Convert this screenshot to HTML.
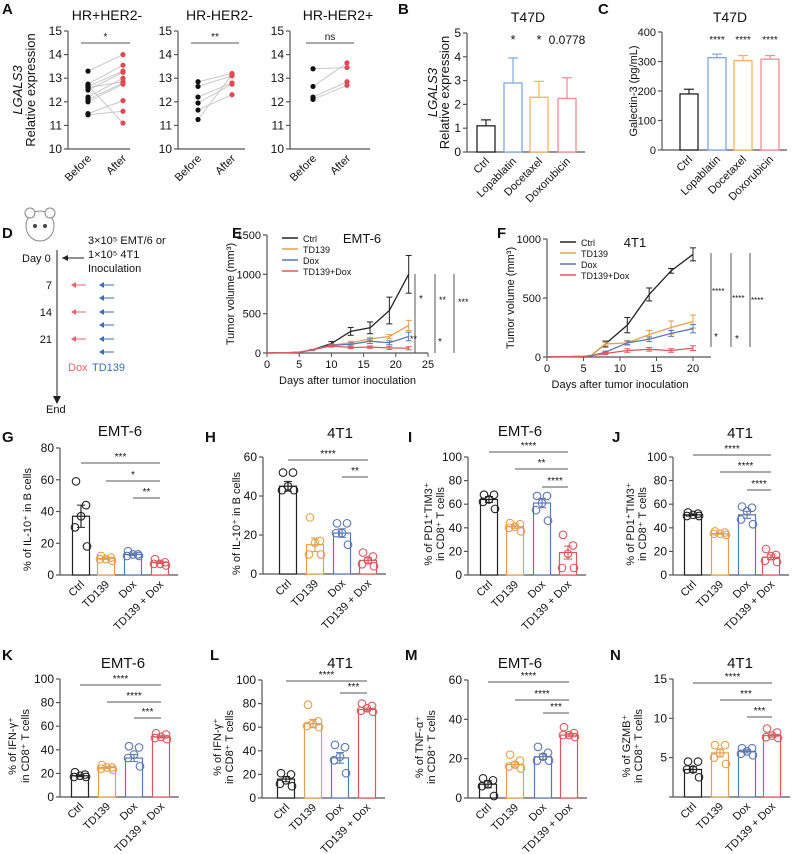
<!DOCTYPE html>
<html><head><meta charset="utf-8"><style>
html,body{margin:0;padding:0;background:#fff}
svg{display:block;font-family:"Liberation Sans",Arial,sans-serif}
</style></head><body>
<svg id="fig" width="796" height="854" viewBox="0 0 796 854"></svg>
<script>
// ---------- DATA ----------
const groups4 = ["Ctrl","TD139","Dox","TD139 + Dox"];
const drugsB = ["Ctrl","Lopablatin","Docetaxel","Doxorubicin"];
const A1_before=[13.3,12.75,12.65,12.5,12.2,12.1,12.0,11.5,11.45,12.7,12.6];
const A1_after=[14.0,13.55,13.3,13.25,13.0,12.8,12.75,12.05,11.6,11.1,12.85];
const A2_before=[12.85,12.65,12.2,11.95,11.65,11.25];
const A2_after=[13.2,13.1,12.8,12.75,12.3,13.15];
const A3_before=[13.4,12.65,12.2,12.1];
const A3_after=[13.45,13.65,12.85,12.7];
const B_means=[1.1,2.9,2.3,2.25];
const B_err=[0.25,1.05,0.67,0.87];
const C_means=[190,313,303,308];
const C_err=[16,12,17,12];
const E_days=[0,3,5,7,10,13,16,19,22];
const E_ctrl=[0,3,10,40,120,275,320,540,1000];
const E_ctrlErr=[0,0,0,5,25,50,75,170,240];
const E_td=[0,3,10,40,100,130,180,210,350];
const E_tdErr=[0,0,0,5,15,20,20,25,65];
const E_dox=[0,3,10,40,100,110,150,130,210];
const E_doxErr=[0,0,0,5,15,20,30,25,55];
const E_combo=[0,3,10,40,90,70,75,65,60];
const E_comboErr=[0,0,0,5,15,15,15,20,20];
const F_days=[0,5,6,8,11,14,17,20];
const F_ctrl=[0,5,10,110,270,530,730,870];
const F_ctrlErr=[0,0,0,25,65,55,20,55];
const F_td=[0,5,10,110,120,190,250,300];
const F_tdErr=[0,0,0,15,20,35,55,55];
const F_dox=[0,5,10,40,120,150,200,240];
const F_doxErr=[0,0,0,10,15,20,25,35];
const F_combo=[0,5,10,30,55,65,55,75];
const F_comboErr=[0,0,0,10,15,15,15,20];
const G_means=[37,10.5,13,8], G_sem=[7,0.7,0.8,0.8];
const G_pts=[[59,44,37,30,18],[12,11,10,10,9],[15,13,13,12,12],[10,8,7,7,6]];
const H_means=[45,15,21,7], H_sem=[2.5,3.5,2.2,1.3];
const H_pts=[[52,52,45,43,43],[29,17,16,10,10],[26,26,21,21,15],[11,9,7,5,4]];
const I_means=[64,41,61,19], I_sem=[2.5,1.5,4,5.5];
const I_pts=[[68,68,64,62,56],[44,43,41,40,37],[67,67,61,55,46],[34,25,18,6,6]];
const J_means=[51,35,51,15], J_sem=[0.7,0.6,3,2];
const J_pts=[[53,52,51,50,50],[37,36,35,35,34],[58,57,54,47,43],[22,17,16,12,11]];
const K_means=[18,25,33,51], K_sem=[0.8,0.8,3,1];
const K_pts=[[21,19,18,17,17],[27,25,25,24,23],[43,42,36,33,26],[54,53,51,50,49]];
const L_means=[16,63,34,75], L_sem=[2.2,3.5,4.5,1.3];
const L_pts=[[21,20,15,12,10],[79,65,63,61,60],[45,43,35,32,21],[80,78,76,74,73]];
const M_means=[7,17,21,32], M_sem=[1.8,1.2,1.4,0.9];
const M_pts=[[10,9,7,6,1],[22,19,17,16,15],[26,23,21,19,19],[36,33,32,32,31]];
const N_means=[3.5,5.6,5.8,7.8], N_sem=[0.35,0.5,0.2,0.2];
const N_pts=[[4.5,4.5,3.5,3.5,2.5],[6.6,6.6,5.6,5.0,4.2],[6.2,6.2,5.8,5.5,5.3],[8.7,8.2,7.8,7.6,7.5]];

// ---------- HELPERS ----------
const NS="http://www.w3.org/2000/svg";
const root=document.getElementById('fig');
function el(tag,attrs,parent){const e=document.createElementNS(NS,tag);for(const k in attrs)e.setAttribute(k,attrs[k]);(parent||root).appendChild(e);return e;}
function txt(s,x,y,size,parent,extra){const t=el('text',Object.assign({x:x,y:y,'font-size':size,fill:'#111'},extra||{}),parent);t.textContent=s;return t;}
const COL=['#222','#e3a050','#5b78b0','#d95a5e'];
const COLB=['#222','#7fa8dc','#f0b35e','#f08c93'];
const GRAY='#555';

function panelLetter(s,x,y){const t=txt(s,x,y,15,root,{'font-weight':'bold'});

}

function yAxis(g,ax,y0,y1,vmin,vmax,ticks,size,labels){
  const sy=v=>y0-(v-vmin)/(vmax-vmin)*(y0-y1);
  const l=el('line',{x1:ax,x2:ax,y1:y0,y2:sy(Math.max(...ticks)),stroke:GRAY,'stroke-width':1.2},g);
  
  
  ticks.forEach((v,i)=>{el('line',{x1:ax-4,x2:ax,y1:sy(v),y2:sy(v),stroke:GRAY,'stroke-width':1.2},g);
    if(!labels||labels[i]!==null){const t=txt(labels?labels[i]:String(v),ax-6,sy(v)+4,size,g,{'text-anchor':'end'});
    
    }});
  return sy;
}
function sigBar(g,x1,x2,y,label){
  el('line',{x1:x1,x2:x2,y1:y,y2:y,stroke:GRAY,'stroke-width':1},g);
  const t=txt(label,(x1+x2)/2,y-3,10,g,{'text-anchor':'middle'});
  
  
}

// ---------- PANEL A ----------
function pairPanel(name,ax,xend,xb,xa,title,before,after,sigLabel){
  const g=el('g',{});
  
  
  const y0=149,y1=31;
  const sy=yAxis(g,ax,y0,y1,10,15,[10,11,12,13,14,15],12);
  el('line',{x1:ax,x2:xend,y1:y0,y2:y0,stroke:GRAY,'stroke-width':1.2},g);
  const tt=txt(title,(ax+xend)/2+8,20,14,g,{'text-anchor':'middle'});
  
  
  sigBar(g,xb-7,xa+7,43,sigLabel);
  before.forEach((v,i)=>{el('line',{x1:xb,x2:xa,y1:sy(v),y2:sy(after[i]),stroke:'#c8c8c8','stroke-width':1},g);});
  before.forEach(v=>{const c=el('circle',{cx:xb,cy:sy(v),r:2.6,fill:'#111'},g);
    
    });
  after.forEach(v=>{const c=el('circle',{cx:xa,cy:sy(v),r:2.6,fill:'#e04a52'},g);
    
    });
  [['Before',xb],['After',xa]].forEach(([s,x])=>{const t=txt(s,x+4,y0+10,11,g,{'text-anchor':'end',transform:`rotate(-45 ${x+4} ${y0+10})`});
    
    });
}
pairPanel('panel-a-hr-her2neg',68,130,88,123,'HR+HER2-',A1_before,A1_after,'*');
pairPanel('panel-a-hrneg-her2neg',178,245,198,232,'HR-HER2-',A2_before,A2_after,'**');
pairPanel('panel-a-hrneg-her2pos',290,370,313,347,'HR-HER2+',A3_before,A3_after,'ns');
{const t=txt('LGALS3',22,90,13,root,{'text-anchor':'middle','font-style':'italic',transform:'rotate(-90 22 90)'});


const t2=txt('Relative expression',35,90,13,root,{'text-anchor':'middle',transform:'rotate(-90 35 90)'});

}

// ---------- PANELS B, C ----------
function barPanel(name,ax,xend,xs,y0,y1,vmax,ticks,means,err,stars,title,tx,ylab,tsize){
  const g=el('g',{});
  
  
  const sy=yAxis(g,ax,y0,y1,0,vmax,ticks,tsize);
  el('line',{x1:ax,x2:xend,y1:y0,y2:y0,stroke:GRAY,'stroke-width':1.2},g);
  const tt=txt(title,tx,22,14,g,{'text-anchor':'middle'});
  
  
  means.forEach((m,i)=>{const x=xs[i],w=18;
    el('line',{x1:x,x2:x,y1:sy(m),y2:sy(m+err[i]),stroke:COLB[i],'stroke-width':1.2},g);
    el('line',{x1:x-5,x2:x+5,y1:sy(m+err[i]),y2:sy(m+err[i]),stroke:COLB[i],'stroke-width':1.2},g);
    const r=el('rect',{x:x-w/2,y:sy(m),width:w,height:y0-sy(m),fill:'#fff',stroke:COLB[i],'stroke-width':1.3},g);
    
    
    const t=txt(drugsB[i],x+4,y0+10,11,g,{'text-anchor':'end',transform:`rotate(-45 ${x+4} ${y0+10})`});
    
    
    if(stars[i]){const s=txt(stars[i],x,y1+11,stars[i].length>2?10:13,g,{'text-anchor':'middle'});
      
      }
  });
  ylab.forEach(([s,x,it])=>{const t=txt(s,x,(y0+y1)/2,it==='s'?11:13,g,{'text-anchor':'middle','font-style':it==='i'?'italic':'normal',transform:`rotate(-90 ${x} ${(y0+y1)/2})`});
    
    });
}
barPanel('panel-b',467,585,[486,513,539,567],152,33,5,[0,1,2,3,4,5],B_means,B_err,['','*','*',''],'T47D',528,[['LGALS3',437,'i'],['Relative expression',449,'n']],12);
{const t=txt('0.0778',567,44,12,root,{'text-anchor':'middle'});}
barPanel('panel-c',662,787,[689,717,743,770],150,32,400,[0,100,200,300,400],C_means,C_err,['','****','****','****'],'T47D',730,[['Galectin-3 (pg/mL)',637,'s']],11);

// ---------- PANEL D ----------
{const g=el('g',{});


el('ellipse',{cx:40,cy:226,rx:14,ry:15,fill:'#fff',stroke:'#888','stroke-width':1},g);
el('circle',{cx:30,cy:213,r:5,fill:'#fff',stroke:'#888'},g);
el('circle',{cx:50,cy:213,r:5,fill:'#fff',stroke:'#888'},g);
el('circle',{cx:35,cy:226,r:2,fill:'#444'},g);el('circle',{cx:45,cy:226,r:2,fill:'#444'},g);
el('line',{x1:57,x2:57,y1:250,y2:400,stroke:'#222','stroke-width':1},g);
el('path',{d:'M53,396 L57,404 L61,396 Z',fill:'#222'},g);
el('line',{x1:62,x2:84,y1:258,y2:258,stroke:'#222'},g);el('path',{d:'M62,258 L68,255 L68,261Z',fill:'#222'},g);
txt('Day 0',22,262,11,g);txt('3×10⁵ EMT/6 or',88,244,11,g);txt('1×10⁵ 4T1',88,258,11,g);txt('Inoculation',88,272,11,g);
[['7',285],['14',312],['21',339]].forEach(([s,y])=>{txt(s,52,y+4,11,g,{'text-anchor':'end'});
  el('line',{x1:72,x2:86,y1:y,y2:y,stroke:'#e0666b'},g);el('path',{d:`M71,${y} L76,${y-3} L76,${y+3}Z`,fill:'#e0666b'},g);});
[285,298,312,325,339,352].forEach(y=>{el('line',{x1:100,x2:114,y1:y,y2:y,stroke:'#3b6fb5'},g);el('path',{d:`M99,${y} L104,${y-3} L104,${y+3}Z`,fill:'#3b6fb5'},g);});
txt('Dox',68,371,11,g,{fill:'#e0666b'});txt('TD139',92,371,11,g,{fill:'#3b6fb5'});
txt('End',46,413,11,g);}

// ---------- PANELS E, F ----------
const lineNames=['Ctrl','TD139','Dox','TD139+Dox'];
function growthPanel(name,ax,xmax,xPx,y0,y1,vmax,yt,xt,days,series,errs,title,tx,legX){
  const g=el('g',{});
  
  
  const sy=yAxis(g,ax,y0,y1,0,vmax,yt,11);
  const sx=d=>ax+d/xmax*(xPx-ax);
  el('line',{x1:ax,x2:sx(xt[xt.length-1])+(name==='panel-f'?18:0),y1:y0,y2:y0,stroke:GRAY,'stroke-width':1.2},g);
  xt.forEach(d=>{el('line',{x1:sx(d),x2:sx(d),y1:y0,y2:y0+4,stroke:GRAY},g);
    const t=txt(String(d),sx(d),y0+15,11,g,{'text-anchor':'middle'});
    
    });
  const xl=txt('Days after tumor inoculation',(ax+sx(xt[xt.length-1]))/2,y0+31,11,g,{'text-anchor':'middle'});
  
  
  const yl=txt('Tumor volume (mm³)',ax-33,(y0+y1)/2,11,g,{'text-anchor':'middle',transform:`rotate(-90 ${ax-33} ${(y0+y1)/2})`});
  
  
  const tt=txt(title,tx,y1+8,13,g,{'text-anchor':'middle'});
  
  
  series.forEach((s,k)=>{const c=COL[k];
    const p=el('polyline',{points:days.map((d,i)=>sx(d)+','+sy(s[i])).join(' '),fill:'none',stroke:c,'stroke-width':1.3},g);
    
    
    days.forEach((d,i)=>{const e=errs[k][i];if(e>0){const x=sx(d);
      el('line',{x1:x,x2:x,y1:sy(s[i]-e),y2:sy(s[i]+e),stroke:c},g);
      el('line',{x1:x-3,x2:x+3,y1:sy(s[i]+e),y2:sy(s[i]+e),stroke:c},g);
      el('line',{x1:x-3,x2:x+3,y1:sy(s[i]-e),y2:sy(s[i]-e),stroke:c},g);}});
    el('line',{x1:legX,x2:legX+16,y1:y1+3+k*11,y2:y1+3+k*11,stroke:c,'stroke-width':1.5},g);
    const lt=txt(lineNames[k],legX+21,y1+7+k*11,9,g);
    
    
  });
  return g;
}
const gE=growthPanel('panel-e',267,25,428,353,235,1500,[0,500,1000,1500],[0,5,10,15,20,25],E_days,[E_ctrl,E_td,E_dox,E_combo],[E_ctrlErr,E_tdErr,E_doxErr,E_comboErr],'EMT-6',362,282);
[[415,274,353],[435,274,353],[454,274,353]].forEach(([x,a,b])=>el('line',{x1:x,x2:x,y1:a,y2:b,stroke:GRAY},gE));
txt('*',419,302,10,gE);txt('**',439,303,9,gE);txt('***',458,305,9,gE);txt('**',410,342,9,gE);txt('*',438,345,10,gE);
const gF=growthPanel('panel-f',547,20,693,357,239,1000,[0,500,1000],[0,5,10,15,20],F_days,[F_ctrl,F_td,F_dox,F_combo],[F_ctrlErr,F_tdErr,F_doxErr,F_comboErr],'4T1',635,560);
[711,731,750].forEach(x=>el('line',{x1:x,x2:x,y1:253,y2:347,stroke:GRAY},gF));
txt('****',712,294,8,gF);txt('****',732,301,8,gF);txt('****',751,303,8,gF);txt('*',714,340,10,gF);txt('*',735,342,10,gF);

// ---------- DOT/BAR PANELS G-N ----------
function dotPanel(name,ax,xs,y0,y1,vmax,ticks,tickLabels,means,sem,pts,sigs,title,tx,ty,ylab){
  const g=el('g',{});
  
  
  const sy=yAxis(g,ax,y0,y1,0,vmax,ticks,12,tickLabels);
  const xend=xs[3]+18;
  el('line',{x1:ax,x2:xend,y1:y0,y2:y0,stroke:GRAY,'stroke-width':1.2},g);
  const tt=txt(title,tx,ty,15,g,{'text-anchor':'middle'});
  
  
  means.forEach((m,i)=>{const x=xs[i],c=COL[i],w=17;
    const r=el('rect',{x:x-w/2,y:sy(m),width:w,height:y0-sy(m),fill:'#fff',stroke:c,'stroke-width':1.2},g);
    
    
    pts[i].forEach((v,j)=>{const off=[-5,5,0,-6,6][j];const p=el('circle',{cx:x+off,cy:sy(v),r:3.8,fill:'none',stroke:c,'stroke-width':1.1},g);
      
      });
    el('line',{x1:x,x2:x,y1:sy(m-sem[i]),y2:sy(m+sem[i]),stroke:c,'stroke-width':1.2},g);
    el('line',{x1:x-4,x2:x+4,y1:sy(m+sem[i]),y2:sy(m+sem[i]),stroke:c},g);
    el('line',{x1:x-4,x2:x+4,y1:sy(m-sem[i]),y2:sy(m-sem[i]),stroke:c},g);
    const t=txt(groups4[i],x+4,y0+10,11,g,{'text-anchor':'end',transform:`rotate(-45 ${x+4} ${y0+10})`});
    
    
  });
  sigs.forEach(([a,b,y,l])=>sigBar(g,xs[a],xs[b],y,l));
  ylab.forEach(([s,x])=>{const t=txt(s,x,(y0+y1)/2+8,11,g,{'text-anchor':'middle',transform:`rotate(-90 ${x} ${(y0+y1)/2+8})`});
    
    });
}
dotPanel('panel-g',60,[81,106,133,160],575,448,80,[0,20,40,60,80],null,G_means,G_sem,G_pts,[[0,3,463,'***'],[1,3,481,'*'],[2,3,498,'**']],'EMT-6',120,436,[['% of IL-10⁺ in B cells',31]]);
dotPanel('panel-h',263,[288,315,342,368],574,457,60,[0,20,40,60],null,H_means,H_sem,H_pts,[[0,3,460,'****'],[2,3,477,'**']],'4T1',340,438,[['% of IL-10⁺ in B cells',240]]);
dotPanel('panel-i',468,[489,515,542,568],575,457,100,[0,20,40,60,80,100],null,I_means,I_sem,I_pts,[[0,3,452,'****'],[1,3,469,'**'],[2,3,487,'****']],'EMT-6',520,436,[['% of PD1⁺TIM3⁺',432],['in CD8⁺ T cells',444]]);
dotPanel('panel-j',673,[693,720,747,771],575,457,100,[0,20,40,60,80,100],null,J_means,J_sem,J_pts,[[0,3,455,'****'],[1,3,472,'****'],[2,3,490,'****']],'4T1',740,438,[['% of PD1⁺TIM3⁺',634],['in CD8⁺ T cells',646]]);
dotPanel('panel-k',60,[80,107,134,161],797,679,100,[0,20,40,60,80,100],null,K_means,K_sem,K_pts,[[0,3,685,'****'],[1,3,702,'****'],[2,3,718,'***']],'EMT-6',123,668,[['% of IFN-γ⁺',16],['in CD8⁺ T cells',29]]);
dotPanel('panel-l',262,[286,313,340,367],798,680,100,[0,20,40,60,80,100],null,L_means,L_sem,L_pts,[[0,3,681,'****'],[2,3,693,'***']],'4T1',340,668,[['% of IFN-γ⁺',221],['in CD8⁺ T cells',233]]);
dotPanel('panel-m',468,[488,515,543,569],798,680,60,[0,20,40,60],null,M_means,M_sem,M_pts,[[0,3,682,'****'],[1,3,700,'****'],[2,3,713,'***']],'EMT-6',520,668,[['% of TNF-α⁺',423],['in CD8⁺ T cells',435]]);
dotPanel('panel-n',673,[693,720,747,772],797,679,15,[0,5,10,15],[null,'5','10','15'],N_means,N_sem,N_pts,[[0,3,683,'****'],[1,3,700,'***'],[2,3,717,'***']],'4T1',740,668,[['% of GZMB⁺',630],['in CD8⁺ T cells',642]]);

// panel letters
[['A',2,14],['B',398,14],['C',598,14],['D',2,238],['E',232,238],['F',497,238],['G',2,442],['H',205,442],['I',408,442],['J',612,442],['K',2,660],['L',210,660],['M',405,660],['N',610,660]].forEach(([s,x,y])=>panelLetter(s,x,y));
</script>
</body></html>
